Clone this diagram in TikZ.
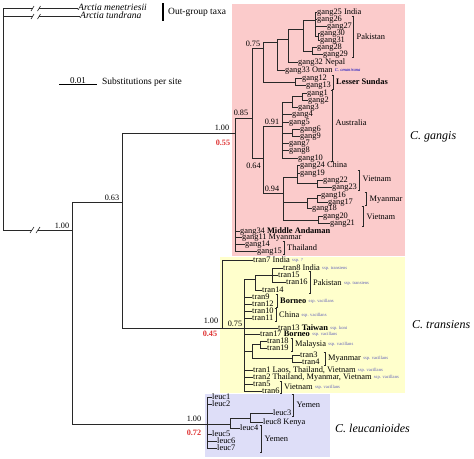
\documentclass[tikz,border=0pt]{standalone}
\usepackage{fontspec}
\setmainfont{Liberation Serif}
\usepackage{tikz}
\usepackage{xcolor}
\usetikzlibrary{positioning}
\definecolor{gangpink}{RGB}{251,203,203}
\definecolor{tranyellow}{RGB}{255,255,204}
\definecolor{leucblue}{RGB}{222,222,248}
\definecolor{supportred}{RGB}{222,50,50}
\definecolor{sspblue}{RGB}{95,95,185}
\definecolor{treegray}{RGB}{40,40,40}
\tikzset{
    branch/.style = {draw=treegray, line width=0.9pt},
    taxon/.style = {anchor=west, inner sep=0pt, font=\fontsize{8.4}{9}\selectfont, text height=5.8pt, text depth=1.8pt},
    place-bold/.style = {taxon, font=\fontsize{8.4}{9}\selectfont\bfseries},
    support/.style = {inner sep=0pt, font=\fontsize{8.2}{9}\selectfont},
    support-red/.style = {inner sep=0pt, text=supportred, font=\fontsize{8.2}{9}\selectfont\bfseries},
    ssp-note/.style = {inner sep=0pt, text=sspblue, font=\fontsize{4.6}{5}\selectfont},
    bracket/.style = {draw=treegray, line width=0.6pt},
    species-name/.style = {anchor=west, inner sep=0pt, font=\fontsize{12}{14}\selectfont\itshape},
}

\begin{document}
\begin{tikzpicture}[x=1pt, y=-1pt]
\useasboundingbox (0,0) rectangle (474,458);

% clade boxes
\fill[gangpink] (232,4) rectangle (405,256);
\fill[tranyellow] (220,257) rectangle (405,393);
\fill[leucblue] (205,394) rectangle (330,457);

% out-group
\coordinate (root) at (3,230);
\node[taxon, font=\fontsize{9.6}{10}\selectfont\itshape] (menetriesii) at (78,8.5) {Arctia menetriesii};
\node[taxon, font=\fontsize{9.6}{10}\selectfont\itshape] (tundrana) at (80,16.5) {Arctia tundrana};
\draw[branch] (root) |- (menetriesii.west);
\draw[branch] (root) |- (tundrana.west);
\fill[white] (33,6) rectangle (39,20);
\draw[branch, line width=0.6pt] (31,11) -- (34,6) (37.5,11) -- (40.5,6) (31,19) -- (34,14) (37.5,19) -- (40.5,14);
\draw[line width=1.2pt] (163,3) -- (163,21);
\node[taxon, font=\fontsize{9.5}{10}\selectfont] (outgroup) at (168,12.5) {Out-group taxa};

% scale
\draw[line width=0.8pt] (59,84.5) -- (97,84.5);
\node[inner sep=0pt, anchor=base, font=\fontsize{9}{10}\selectfont] (scale-value) at (78,83) {0.01};
\node[taxon, font=\fontsize{9.5}{10}\selectfont] (scale-unit) at (102,82) {Substitutions per site};

% backbone
\coordinate (ingroup) at (72,230);
\coordinate (n063) at (122,202);
\coordinate (gangRoot) at (235,133);
\coordinate (tranRoot) at (222,328);
\coordinate (leucRoot) at (207,424);
\draw[branch] (root) -- (ingroup);
\fill[white] (32,227) rectangle (38,233);
\draw[branch, line width=0.6pt] (30,233) -- (34,227) (36,233) -- (40,227);
\draw[branch] (ingroup) |- (n063);
\draw[branch] (ingroup) |- (leucRoot);
\draw[branch] (n063) |- (gangRoot);
\draw[branch] (n063) |- (tranRoot);

\node[support] (s-root) at (62,226) {1.00};
\node[support] (s-063) at (112,198) {0.63};
\node[support] (s-gang) at (222,128) {1.00};
\node[support-red] (r-gang) at (223,143) {0.55};
\node[support] (s-tran) at (211,321) {1.00};
\node[support-red] (r-tran) at (210,334) {0.45};
\node[support] (s-leuc) at (194,419) {1.00};
\node[support-red] (r-leuc) at (194,433) {0.72};

% C. gangis
\coordinate (n085) at (252,118);
\coordinate (n075) at (263,48);
\coordinate (n064) at (263,158);
\coordinate (nOman) at (277,42);
\coordinate (nNepal) at (288,39);
\coordinate (nIndPak) at (303,29);
\coordinate (nIndia) at (315,20);
\coordinate (n3031) at (318,36.5);
\coordinate (n2829) at (312,51);
\coordinate (nLesser) at (295,82);
\coordinate (n091) at (282,126);
\coordinate (nAus13) at (292,102);
\coordinate (nAus12) at (302,96.5);
\coordinate (nAus69) at (292,133);
\coordinate (n094) at (283,193);
\coordinate (nChina) at (297,177);
\coordinate (nViet23) at (317,183.5);
\coordinate (nMyan) at (307,202);
\coordinate (nMyan17) at (317,198.5);
\coordinate (nViet21) at (318,220);

\node[taxon] (gang25) at (317,12.5) {gang25 India};
\node[taxon] (gang26) at (317,19) {gang26};
\node[taxon] (gang27) at (327,26) {gang27};
\node[taxon] (gang30) at (320,33) {gang30};
\node[taxon] (gang31) at (320,40) {gang31};
\node[taxon] (gang28) at (317,47.5) {gang28};
\node[taxon] (gang29) at (323,54.5) {gang29};
\node[taxon] (gang32) at (298,62.5) {gang32 Nepal};
\node[taxon] (gang33) at (285,70) {gang33 Oman};
\node[taxon] (gang12) at (302,78.5) {gang12};
\node[taxon] (gang13) at (306,85.5) {gang13};
\node[taxon] (gang1) at (307,93) {gang1};
\node[taxon] (gang2) at (308,100) {gang2};
\node[taxon] (gang3) at (298,107) {gang3};
\node[taxon] (gang4) at (292,114.5) {gang4};
\node[taxon] (gang5) at (289,122) {gang5};
\node[taxon] (gang6) at (300,129.5) {gang6};
\node[taxon] (gang9) at (300,136.5) {gang9};
\node[taxon] (gang7) at (289,143) {gang7};
\node[taxon] (gang8) at (289,150) {gang8};
\node[taxon] (gang10) at (298,158) {gang10};
\node[taxon] (gang24) at (300,165) {gang24 China};
\node[taxon] (gang19) at (300,173) {gang19};
\node[taxon] (gang22) at (323,180) {gang22};
\node[taxon] (gang23) at (332,187) {gang23};
\node[taxon] (gang16) at (321,195) {gang16};
\node[taxon] (gang17) at (328,202) {gang17};
\node[taxon] (gang18) at (312,208.5) {gang18};
\node[taxon] (gang20) at (323,216) {gang20};
\node[taxon] (gang21) at (330,223) {gang21};
\node[taxon] (gang34) at (240,231) {gang34 \textbf{Middle Andaman}};
\node[taxon] (gang11) at (242,237.5) {gang11 Myanmar};
\node[taxon] (gang14) at (245,244) {gang14};
\node[taxon] (gang15) at (257,251) {gang15};
\node[ssp-note, font=\fontsize{4.6}{5}\selectfont\itshape, text=blue!75!black, right=2pt of gang33] (omanirana) {C. omanirana};

\draw[branch] (gangRoot) |- (n085);
\foreach \leaf in {gang34,gang11,gang14,gang15} \draw[branch] (gangRoot) |- (\leaf.west);
\draw[branch] (n085) |- (n075);
\draw[branch] (n085) |- (n064);
\draw[branch] (n075) |- (nOman);
\draw[branch] (n075) |- (nLesser);
\draw[branch] (nOman) |- (nNepal);
\draw[branch] (nOman) |- (gang33.west);
\draw[branch] (nNepal) |- (nIndPak);
\draw[branch] (nNepal) |- (gang32.west);
\draw[branch] (nIndPak) |- (nIndia);
\draw[branch] (nIndPak) |- (n2829);
\foreach \leaf in {gang25,gang26,gang27} \draw[branch] (nIndia) |- (\leaf.west);
\draw[branch] (nIndia) |- (n3031);
\foreach \leaf in {gang30,gang31} \draw[branch] (n3031) |- (\leaf.west);
\foreach \leaf in {gang28,gang29} \draw[branch] (n2829) |- (\leaf.west);
\foreach \leaf in {gang12,gang13} \draw[branch] (nLesser) |- (\leaf.west);
\draw[branch] (n064) |- (n091);
\draw[branch] (n064) |- (n094);
\draw[branch] (n091) |- (nAus13);
\draw[branch] (n091) |- (nAus69);
\foreach \leaf in {gang4,gang5,gang7,gang8,gang10} \draw[branch] (n091) |- (\leaf.west);
\draw[branch] (nAus13) |- (nAus12);
\draw[branch] (nAus13) |- (gang3.west);
\foreach \leaf in {gang1,gang2} \draw[branch] (nAus12) |- (\leaf.west);
\foreach \leaf in {gang6,gang9} \draw[branch] (nAus69) |- (\leaf.west);
\draw[branch] (n094) |- (nChina);
\draw[branch] (n094) |- (nMyan);
\draw[branch] (n094) |- (nViet21);
\foreach \leaf in {gang24,gang19} \draw[branch] (nChina) |- (\leaf.west);
\draw[branch] (nChina) |- (nViet23);
\foreach \leaf in {gang22,gang23} \draw[branch] (nViet23) |- (\leaf.west);
\draw[branch] (nMyan) |- (nMyan17);
\draw[branch] (nMyan) |- (gang18.west);
\foreach \leaf in {gang16,gang17} \draw[branch] (nMyan17) |- (\leaf.west);
\foreach \leaf in {gang20,gang21} \draw[branch] (nViet21) |- (\leaf.west);

\node[support] (s-085) at (241,113) {0.85};
\node[support] (s-075) at (253,44) {0.75};
\node[support] (s-064) at (253.5,166) {0.64};
\node[support] (s-091) at (272,122) {0.91};
\node[support] (s-094) at (272,189) {0.94};

\draw[bracket] (351.5,16) -| (353,57.5) -- ++(-1.5,0);
\draw[bracket] (331.5,75.5) -| (333,89) -- ++(-1.5,0);
\draw[bracket] (330.5,90) -| (332,161) -- ++(-1.5,0);
\draw[bracket] (357.5,170) -| (359,190) -- ++(-1.5,0);
\draw[bracket] (364.5,192) -| (366,205) -- ++(-1.5,0);
\draw[bracket] (361.5,206.5) -| (363,226.5) -- ++(-1.5,0);
\draw[bracket] (282.5,241) -| (284,254) -- ++(-1.5,0);
\node[taxon] (pakistan-g) at (356.5,37) {Pakistan};
\node[place-bold] (lesser-sundas) at (336,82) {Lesser Sundas};
\node[taxon] (australia) at (335.5,123) {Australia};
\node[taxon] (vietnam-g1) at (362.5,179) {Vietnam};
\node[taxon] (myanmar-g) at (369.5,199) {Myanmar};
\node[taxon] (vietnam-g2) at (366.5,217) {Vietnam};
\node[taxon] (thailand-g) at (287,248) {Thailand};
\node[species-name] (gangis) at (410,137) {C. gangis};

% C. transiens
\coordinate (tran075) at (244,328);
\coordinate (nPakT) at (255,279);
\coordinate (nIndT) at (272,275);
\coordinate (nMalMy) at (252,351);
\coordinate (nMal) at (260,344.5);
\coordinate (nMyT) at (292,358.5);

\node[taxon] (tran7) at (253,260.5) {tran7 India};
\node[taxon] (tran8) at (283,268) {tran8 India};
\node[taxon] (tran15) at (278,275) {tran15};
\node[taxon] (tran16) at (286,282.5) {tran16};
\node[taxon] (tran14) at (262,290) {tran14};
\node[taxon] (tran9) at (252,297) {tran9};
\node[taxon] (tran12) at (252,304) {tran12};
\node[taxon] (tran10) at (252,311) {tran10};
\node[taxon] (tran11) at (252,318.5) {tran11};
\node[taxon] (tran13) at (278,328) {tran13 \textbf{Taiwan}};
\node[taxon] (tran17) at (260,334) {tran17 \textbf{Borneo}};
\node[taxon] (tran18) at (267,341) {tran18};
\node[taxon] (tran19) at (267,348) {tran19};
\node[taxon] (tran3) at (300,355) {tran3};
\node[taxon] (tran4) at (302,362) {tran4};
\node[taxon] (tran1) at (253,370) {tran1 Laos, Thailand, Vietnam};
\node[taxon] (tran2) at (253,377) {tran2 Thailand, Myanmar, Vietnam};
\node[taxon] (tran5) at (253,384) {tran5};
\node[taxon] (tran6) at (262,391) {tran6};

\draw[branch] (tranRoot) |- (tran7.west);
\draw[branch] (tranRoot) -- (tran075);
\draw[branch] (tran075) |- (nPakT);
\draw[branch] (tran075) |- (nMalMy);
\foreach \leaf in {tran9,tran12,tran10,tran11,tran13,tran17,tran1,tran2,tran5,tran6} \draw[branch] (tran075) |- (\leaf.west);
\draw[branch] (nPakT) |- (nIndT);
\draw[branch] (nPakT) |- (tran14.west);
\foreach \leaf in {tran8,tran15,tran16} \draw[branch] (nIndT) |- (\leaf.west);
\draw[branch] (nMalMy) |- (nMal);
\draw[branch] (nMalMy) |- (nMyT);
\foreach \leaf in {tran18,tran19} \draw[branch] (nMal) |- (\leaf.west);
\foreach \leaf in {tran3,tran4} \draw[branch] (nMyT) |- (\leaf.west);

\node[support] (s-tran075) at (235,323.5) {0.75};

\draw[bracket] (308.5,271.5) -| (310,293) -- ++(-1.5,0);
\draw[bracket] (275.5,294) -| (277,307) -- ++(-1.5,0);
\draw[bracket] (274.5,308) -| (276,321.5) -- ++(-1.5,0);
\draw[bracket] (290.5,338) -| (292,351) -- ++(-1.5,0);
\draw[bracket] (323.5,352) -| (325,365) -- ++(-1.5,0);
\draw[bracket] (279.5,381) -| (281,393) -- ++(-1.5,0);
\node[taxon] (pakistan-t) at (313,283) {Pakistan};
\node[place-bold] (borneo-t) at (280,301) {Borneo};
\node[taxon] (china-t) at (279,315) {China};
\node[taxon] (malaysia-t) at (295,344.5) {Malaysia};
\node[taxon] (myanmar-t) at (328,358.5) {Myanmar};
\node[taxon] (vietnam-t) at (284,387.5) {Vietnam};

\node[ssp-note, right=2pt of tran7] (ssp7) {ssp. ?};
\node[ssp-note, right=2pt of tran8] (ssp8) {ssp. transiens};
\node[ssp-note, right=2pt of pakistan-t] (ssp-pak) {ssp. transiens};
\node[ssp-note, right=2pt of borneo-t] (ssp-bor) {ssp. vacillans};
\node[ssp-note, right=2pt of china-t] (ssp-chi) {ssp. vacillans};
\node[ssp-note, right=2pt of tran13] (ssp13) {ssp. koni};
\node[ssp-note, right=2pt of tran17] (ssp17) {ssp. vacillans};
\node[ssp-note, right=2pt of malaysia-t] (ssp-mal) {ssp. vacillans};
\node[ssp-note, right=2pt of myanmar-t] (ssp-mya) {ssp. vacillans};
\node[ssp-note, right=2pt of tran1] (ssp1) {ssp. vacillans};
\node[ssp-note, right=2pt of tran2] (ssp2) {ssp. vacillans};
\node[ssp-note, right=2pt of vietnam-t] (ssp-vie) {ssp. vacillans};
\node[species-name] (transiens) at (412,325) {C. transiens};

% C. leucanioides
\coordinate (nKenya) at (230,424);
\coordinate (nLeuc38) at (250,418);
\node[taxon] (leuc1) at (212,397) {leuc1};
\node[taxon] (leuc2) at (212,404) {leuc2};
\node[taxon] (leuc3) at (273,413) {leuc3};
\node[taxon] (leuc8) at (263,422) {leuc8 Kenya};
\node[taxon] (leuc4) at (240,428) {leuc4};
\node[taxon] (leuc5) at (212,434) {leuc5};
\node[taxon] (leuc6) at (217,441) {leuc6};
\node[taxon] (leuc7) at (217,448) {leuc7};
\foreach \leaf in {leuc1,leuc2,leuc5,leuc6,leuc7} \draw[branch] (leucRoot) |- (\leaf.west);
\draw[branch] (leucRoot) -- (nKenya);
\draw[branch] (nKenya) |- (nLeuc38);
\draw[branch] (nKenya) |- (leuc4.west);
\foreach \leaf in {leuc3,leuc8} \draw[branch] (nLeuc38) |- (\leaf.west);

\draw[bracket] (291.5,394) -| (293,416) -- ++(-1.5,0);
\draw[bracket] (259.5,425) -| (261,452) -- ++(-1.5,0);
\node[taxon] (yemen1) at (296.5,405) {Yemen};
\node[taxon] (yemen2) at (264.5,439) {Yemen};
\node[species-name] (leucanioides) at (335,428) {C. leucanioides};
\end{tikzpicture}
\end{document}
